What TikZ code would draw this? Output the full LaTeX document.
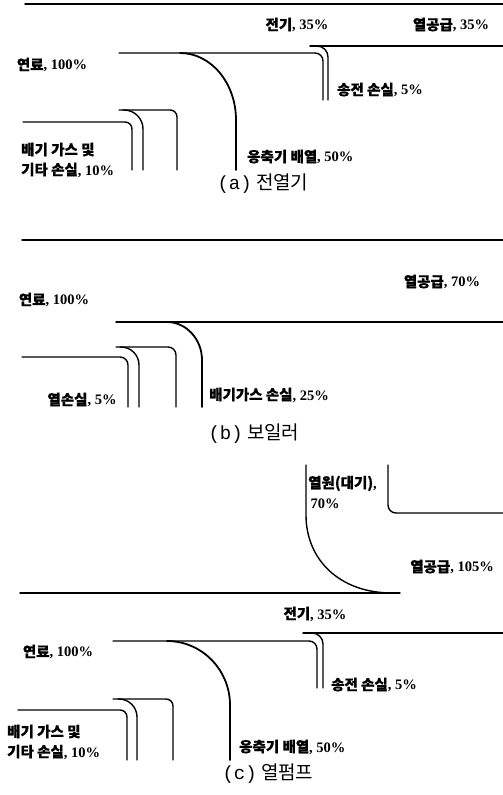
\documentclass[tikz,border=0pt]{standalone}
\usepackage{fontspec}
\setmainfont{Liberation Serif}
\newfontfamily\mono{Liberation Mono}
\newfontfamily\krb[FakeBold=0.6]{Noto Sans CJK KR}
\newfontfamily\krn{Noto Sans CJK KR}
\newcommand\K[1]{{\krb #1}}
\tikzset{
  flow/.style={line width=1.4pt, line cap=round},
  thick flow/.style={line width=1.8pt, line cap=round},
  lbl/.style={inner sep=0pt, font=\fontsize{14.5}{20}\selectfont\bfseries, align=left},
  captext/.style={inner sep=0pt, font=\fontsize{19}{22}\selectfont\krn},
}
\begin{document}
\begin{tikzpicture}[x=1pt,y=-1pt]
\useasboundingbox (0,0) rectangle (503,795);
% ---------- (a) ----------
\draw[flow] (25,4) -- (503,4);
\draw[flow] (310,46) -- (503,46);
\draw[flow, rounded corners=11pt] (316,46) -- (328,46) -- (328,100);
\draw[flow, rounded corners=8pt] (119,53) -- (323,53) -- (323,100);
\draw[thick flow] (180,53) .. controls (211,53) and (236,83) .. (236,120) -- (236,170);
\draw[flow, rounded corners=7pt] (119,110) -- (177,110) -- (177,170);
\draw[flow, rounded corners=19pt] (123,110) -- (143,110) -- (143,170);
\draw[flow, rounded corners=7pt] (23,122) -- (132,122) -- (132,170);
\node[lbl] (a1) at (297,25) {\K{전기}, 35\%};
\node[lbl] (a2) at (451,25) {\K{열공급}, 35\%};
\node[lbl] (a3) at (52,65) {\K{연료}, 100\%};
\node[lbl, anchor=west] (a4) at (337,90) {\K{송전 손실}, 5\%};
\node[lbl, anchor=west] (a5) at (21,160) {\K{배기 가스 및}\\\K{기타 손실}, 10\%};
\node[lbl, anchor=west] (a6) at (247,157) {\K{응축기 배열}, 50\%};
\node[captext] (ca) at (263,184) {{\mono(a)} 전열기};
% ---------- (b) ----------
\draw[flow] (22,240) -- (503,240);
\draw[flow] (116,322) -- (503,322);
\draw[thick flow] (167,322) .. controls (186,322) and (202,339) .. (202,360) -- (202,407);
\draw[flow, rounded corners=8pt] (116,347) -- (176,347) -- (176,407);
\draw[flow, rounded corners=18pt] (120,347) -- (139,347) -- (139,407);
\draw[flow, rounded corners=8pt] (22,357) -- (128,357) -- (128,407);
\node[lbl] (b1) at (442,282) {\K{열공급}, 70\%};
\node[lbl] (b2) at (54,300) {\K{연료}, 100\%};
\node[lbl] (b3) at (82,400) {\K{열손실}, 5\%};
\node[lbl, anchor=west] (b4) at (209,395) {\K{배기가스 손실}, 25\%};
\node[captext] (cb) at (254,434) {{\mono(b)} 보일러};
% ---------- (c) ----------
\draw[flow] (306,465) -- (306,515) .. controls (306,560) and (340,593) .. (392,593);
\draw[flow] (20,593) -- (400,593);
\draw[flow, rounded corners=8pt] (388,465) -- (388,513) -- (503,513);
\node[lbl, anchor=west] (c1) at (308,492) {\K{열원(대기)},\\\,70\%};
\node[lbl] (c2) at (452,567) {\K{열공급}, 105\%};
\node[lbl] (c3) at (315,614) {\K{전기}, 35\%};
\draw[flow] (303,633) -- (503,633);
\draw[flow, rounded corners=11pt] (311,633) -- (323,633) -- (323,688);
\draw[flow, rounded corners=8pt] (113,641) -- (317,641) -- (317,688);
\draw[thick flow] (167,641) .. controls (202,641) and (230,670) .. (230,705) -- (230,760);
\draw[flow, rounded corners=7pt] (113,699) -- (173,699) -- (173,760);
\draw[flow, rounded corners=18pt] (118,699) -- (137,699) -- (137,760);
\draw[flow, rounded corners=7pt] (18,710) -- (127,710) -- (127,760);
\node[lbl] (c4) at (58,652) {\K{연료}, 100\%};
\node[lbl, anchor=west] (c5) at (331,685) {\K{송전 손실}, 5\%};
\node[lbl, anchor=west] (c6) at (7,742) {\K{배기 가스 및}\\\K{기타 손실}, 10\%};
\node[lbl, anchor=west] (c7) at (239,747) {\K{응축기 배열}, 50\%};
\node[captext] (cc) at (268,774) {{\mono(c)} 열펌프};
\end{tikzpicture}
\end{document}
